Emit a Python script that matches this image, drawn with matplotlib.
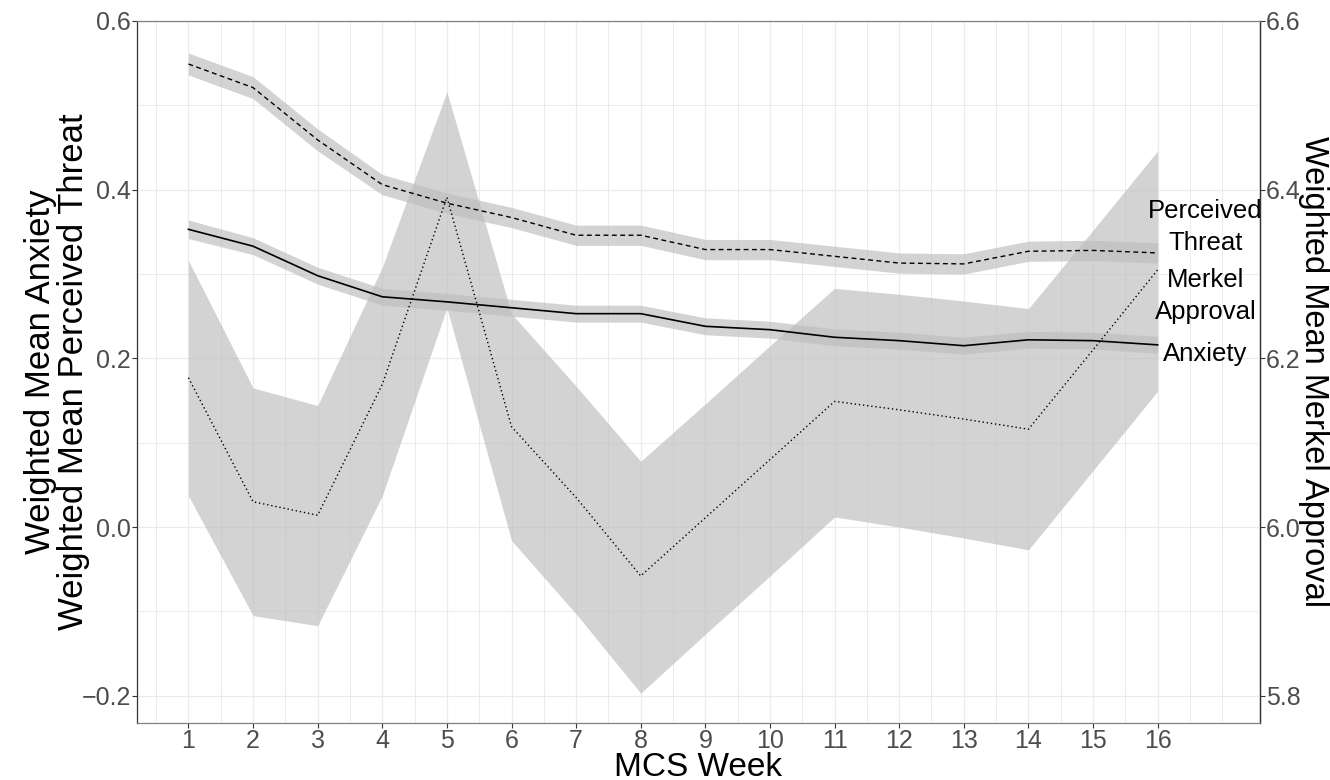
"""
Evolução semanal de ansiedade, ameaça percebida e aprovação da Merkel (MCS).
"""

import numpy as np
import matplotlib
matplotlib.use('Agg')
import matplotlib.pyplot as plt

plt.rcParams['font.family'] = ['Liberation Sans', 'DejaVu Sans']
plt.rcParams['axes.unicode_minus'] = True

# Dados
weeks = np.arange(1, 17)

threat = [0.549, 0.521, 0.459, 0.406, 0.384, 0.367, 0.346, 0.346,
          0.329, 0.329, 0.321, 0.313, 0.312, 0.327, 0.328, 0.325]
threat_ci = [0.013, 0.013, 0.013, 0.012, 0.012, 0.012, 0.012, 0.012,
             0.012, 0.012, 0.012, 0.012, 0.012, 0.012, 0.012, 0.012]

anxiety = [0.353, 0.333, 0.298, 0.273, 0.267, 0.260, 0.253, 0.253,
           0.238, 0.234, 0.225, 0.221, 0.215, 0.222, 0.221, 0.216]
anxiety_ci = [0.011, 0.010, 0.010, 0.010, 0.010, 0.010, 0.010, 0.010,
              0.010, 0.010, 0.010, 0.010, 0.010, 0.010, 0.010, 0.010]

# Aprovação da Merkel (escala do eixo direito)
merkel = [6.177, 6.030, 6.014, 6.169, 6.391, 6.119, 6.035, 5.942,
          6.011, 6.080, 6.149, 6.139, 6.128, 6.116, 6.210, 6.305]
merkel_low = [6.037, 5.895, 5.883, 6.037, 6.260, 5.984, 5.897, 5.803,
              5.873, 5.942, 6.012, 6.000, 5.987, 5.973, 6.067, 6.161]
merkel_high = [6.316, 6.165, 6.144, 6.308, 6.516, 6.253, 6.167, 6.078,
               6.146, 6.215, 6.283, 6.276, 6.268, 6.259, 6.352, 6.446]

SEC_OFFSET = 6.0  # eixo secundário = primário + 6

x_ticks = list(range(1, 17))
y_ticks = [-0.2, 0.0, 0.2, 0.4, 0.6]
y2_ticks = [5.8, 6.0, 6.2, 6.4, 6.6]

labels = ['Perceived\nThreat', 'Merkel\nApproval', 'Anxiety']
label_y = [0.356, 0.274, 0.205]

RIBBON = '#bebebe'
TICK_TXT = '#4d4d4d'

fig = plt.figure(figsize=(13.3, 7.8), dpi=100)
ax = fig.add_axes([137 / 1330, 1 - 723.3 / 780, 1123 / 1330, 702.3 / 780])

# Faixas de confiança
ax.fill_between(weeks, np.array(threat) - threat_ci, np.array(threat) + threat_ci,
                color=RIBBON, alpha=0.68, linewidth=0, zorder=2)
ax.fill_between(weeks, np.array(anxiety) - anxiety_ci, np.array(anxiety) + anxiety_ci,
                color=RIBBON, alpha=0.68, linewidth=0, zorder=2)
ax.fill_between(weeks, np.array(merkel_low) - SEC_OFFSET, np.array(merkel_high) - SEC_OFFSET,
                color=RIBBON, alpha=0.68, linewidth=0, zorder=2)

# Linhas
ax.plot(weeks, threat, color='black', linewidth=1.0, linestyle=(0, (3.5, 2.5)), zorder=3)
ax.plot(weeks, anxiety, color='black', linewidth=1.2, linestyle='-', zorder=3)
ax.plot(weeks, np.array(merkel) - SEC_OFFSET, color='black', linewidth=1.0,
        linestyle=(0, (1, 2)), zorder=3)

# Rótulos à direita
for text, yy in zip(labels, label_y):
    ax.text(16.74, yy, text, ha='center', va='center', fontsize=18.5,
            linespacing=1.45, color='black', zorder=4)

ax.set_xlim(0.204, 17.584)
ax.set_ylim(-0.2327, 0.6)

ax.set_xticks(x_ticks)
ax.set_xticks([v for v in np.arange(0.5, 17.01, 0.5) if v not in x_ticks], minor=True)
ax.set_yticks(y_ticks)
ax.set_yticks([-0.1, 0.1, 0.3, 0.5], minor=True)
ax.set_yticklabels([f'{v:.1f}'.replace('-', '\u2212') for v in y_ticks])

ax.set_axisbelow(True)
ax.grid(True, which='major', color='#ebebeb', linewidth=0.9, zorder=0)
ax.grid(True, which='minor', color='#ebebeb', linewidth=0.7, zorder=0)

ax.tick_params(axis='both', which='major', direction='out', length=3.4, width=0.8,
               color='#333333', labelsize=18, labelcolor=TICK_TXT)
ax.tick_params(axis='x', which='major', pad=1.0)
ax.tick_params(axis='y', which='major', pad=0.8)
ax.tick_params(which='minor', length=0)

for side in ['left', 'right']:
    ax.spines[side].set_color('#333333')
    ax.spines[side].set_linewidth(0.9)
for side in ['top', 'bottom']:
    ax.spines[side].set_color('#808080')
    ax.spines[side].set_linewidth(0.9)

# Eixo secundário
sec = ax.secondary_yaxis('right', functions=(lambda v: v + SEC_OFFSET,
                                             lambda v: v - SEC_OFFSET))
sec.set_yticks(y2_ticks)
sec.set_yticklabels([f'{v:.1f}' for v in y2_ticks])
sec.tick_params(direction='out', length=3.4, width=0.8, color='#333333',
                labelsize=18, labelcolor=TICK_TXT, pad=0.8)
sec.spines['right'].set_color('#333333')
sec.spines['right'].set_linewidth(0.9)

# Títulos dos eixos
ax.set_xlabel('MCS Week', fontsize=24, va='baseline')
ax.xaxis.set_label_coords(0.5, (723.3 - 775.5) / 702.3)
ax.set_ylabel('Weighted Mean Anxiety\nWeighted Mean Perceived Threat', fontsize=25,
              va='center', ha='center', linespacing=1.0)
ax.yaxis.set_label_coords(-0.071, 0.5)
fig.text(1314 / 1330, 1 - 372 / 780, 'Weighted Mean Merkel Approval', fontsize=23.5,
         rotation=270, va='center', ha='center')

fig.savefig('out.png', dpi=100)
plt.close(fig)
